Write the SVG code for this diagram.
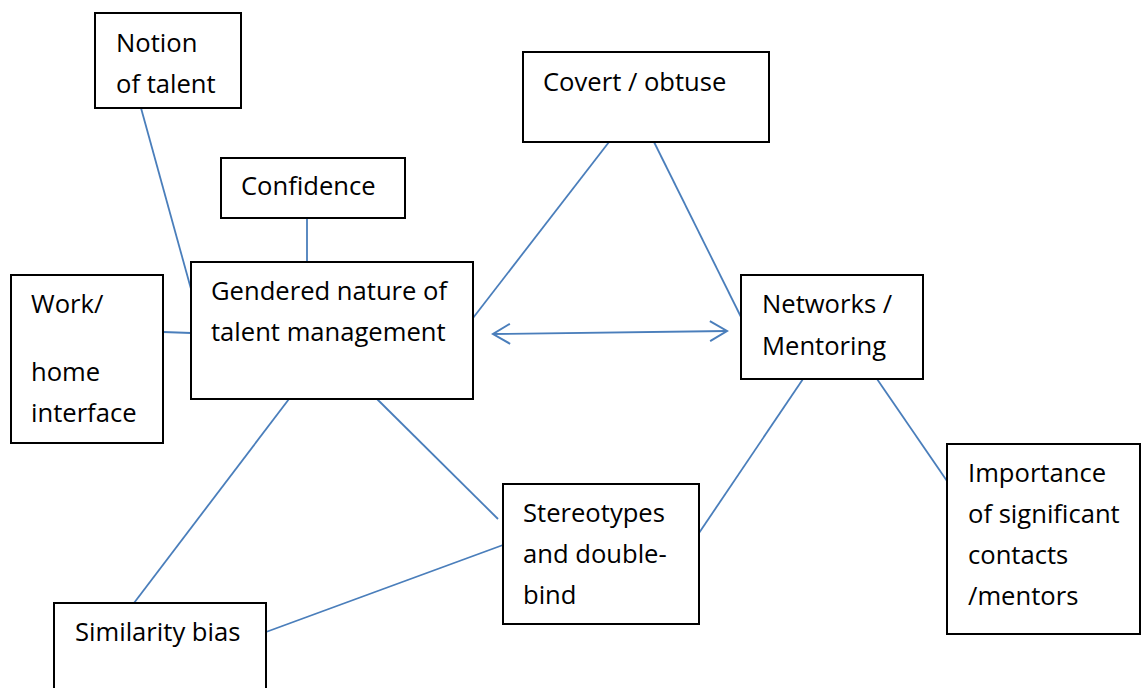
<svg xmlns="http://www.w3.org/2000/svg" width="1141" height="688" viewBox="0 0 1141 688">
<defs>
<style>
.box{fill:#fff;stroke:#000;stroke-width:2}
.t{font-family:"Open Sans","Liberation Sans",sans-serif;font-size:25.6px;fill:#000}
.c{stroke:#4a7ebb;stroke-width:1.8;fill:none}
</style>
<marker id="chev" viewBox="-19 -12 21 24" markerWidth="21" markerHeight="24" refX="0" refY="0" markerUnits="userSpaceOnUse" orient="auto-start-reverse">
<path d="M-17,-10 L0,0 L-17,10" fill="none" stroke="#4a7ebb" stroke-width="2"/>
</marker>
</defs>
<rect width="1141" height="688" fill="#fff"/>
<g id="connectors">
<line class="c" x1="141" y1="108" x2="191" y2="289"/>
<line class="c" x1="307" y1="218" x2="307" y2="262"/>
<line class="c" x1="163" y1="332" x2="191" y2="333"/>
<line class="c" x1="473" y1="318" x2="609" y2="142"/>
<line class="c" x1="654" y1="142" x2="741" y2="317"/>
<line class="c" x1="493" y1="334" x2="727" y2="331" marker-start="url(#chev)" marker-end="url(#chev)"/>
<line class="c" x1="289" y1="399" x2="134" y2="603"/>
<line class="c" x1="377" y1="399" x2="498" y2="519"/>
<line class="c" x1="503" y1="545" x2="266" y2="632"/>
<line class="c" x1="803" y1="379" x2="699" y2="533"/>
<line class="c" x1="877" y1="379" x2="947" y2="481"/>
</g>
<g id="notion">
<rect class="box" x="95" y="13" width="146" height="95"/>
<text class="t" x="116" y="52">Notion</text>
<text class="t" x="116" y="93">of talent</text>
</g>
<g id="confidence">
<rect class="box" x="221" y="158" width="184" height="60"/>
<text class="t" x="241" y="195">Confidence</text>
</g>
<g id="gendered">
<rect class="box" x="191" y="262" width="282" height="137"/>
<text class="t" x="211" y="300">Gendered nature of</text>
<text class="t" x="211" y="341">talent management</text>
</g>
<g id="workhome">
<rect class="box" x="11" y="275" width="152" height="168"/>
<text class="t" x="31" y="313">Work/</text>
<text class="t" x="31" y="381">home</text>
<text class="t" x="31" y="422">interface</text>
</g>
<g id="covert">
<rect class="box" x="523" y="52" width="246" height="90"/>
<text class="t" x="543" y="91">Covert / obtuse</text>
</g>
<g id="networks">
<rect class="box" x="741" y="275" width="182" height="104"/>
<text class="t" x="762" y="313">Networks /</text>
<text class="t" x="762" y="355">Mentoring</text>
</g>
<g id="importance">
<rect class="box" x="947" y="444" width="193" height="190"/>
<text class="t" x="968" y="482">Importance</text>
<text class="t" x="968" y="523">of significant</text>
<text class="t" x="968" y="564">contacts</text>
<text class="t" x="968" y="605">/mentors</text>
</g>
<g id="stereotypes">
<rect class="box" x="503" y="484" width="196" height="140"/>
<text class="t" x="523" y="522">Stereotypes</text>
<text class="t" x="523" y="563">and double-</text>
<text class="t" x="523" y="604">bind</text>
</g>
<g id="similarity">
<rect class="box" x="54" y="603" width="212" height="90"/>
<text class="t" x="75" y="641">Similarity bias</text>
</g>
</svg>
